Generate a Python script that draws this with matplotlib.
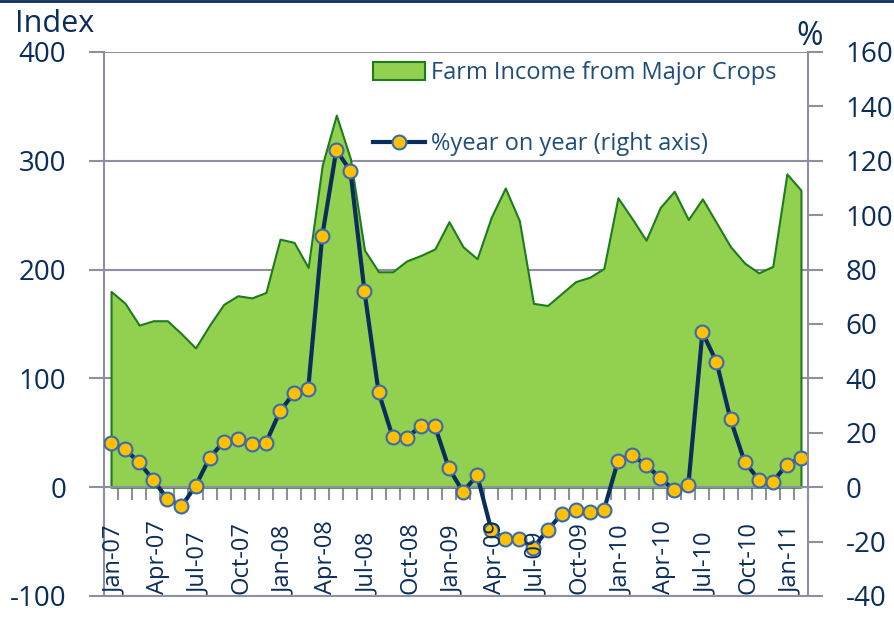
import matplotlib
matplotlib.use('Agg')
import matplotlib.pyplot as plt
import matplotlib.transforms as mtransforms
from matplotlib.lines import Line2D
import numpy as np

plt.rcParams['font.family'] = ['Open Sans', 'DejaVu Sans']
plt.rcParams['axes.unicode_minus'] = False

# monthly, Jan-07 .. Feb-11
months = ['Jan', 'Feb', 'Mar', 'Apr', 'May', 'Jun', 'Jul', 'Aug', 'Sep', 'Oct', 'Nov', 'Dec']
fechas = [f'{m}-{y:02d}' for y in range(7, 12) for m in months][:50]

ingreso = [180, 169, 149, 153, 153, 141, 128, 149, 168, 176, 174, 179,
           228, 225, 202, 296, 342, 302, 218, 198, 198, 208, 213, 219,
           244, 221, 210, 248, 275, 245, 169, 167, 178, 189, 193, 201,
           266, 247, 227, 257, 272, 246, 265, 243, 221, 206, 197, 203,
           288, 273]

yoy = [16.3, 13.9, 9.1, 2.6, -4.2, -7.0, 0.4, 10.8, 16.7, 17.6, 15.7, 16.3,
       27.9, 34.7, 36.0, 92.4, 123.9, 116.3, 72.0, 35.0, 18.5, 18.1, 22.5, 22.5,
       6.9, -1.7, 4.4, -15.6, -19.2, -19.2, -22.2, -15.8, -9.9, -8.5, -9.1, -8.5,
       9.6, 11.8, 8.1, 3.4, -1.1, 0.7, 56.9, 46.1, 24.9, 9.3, 2.8, 2.0,
       8.3, 10.8]

etiquetas = fechas[::3]

navy = '#0B2D5B'
gris = '#8E909F'
verde = '#92D050'
verde_borde = '#1E7B1E'

x = np.arange(len(ingreso))

fig = plt.figure(figsize=(8.95, 6.2), dpi=100)
ax1 = fig.add_axes([104/895, 1-596/620, 704/895, 544/620])
ax2 = ax1.twinx()

# area (left axis)
ax1.fill_between(x, 0, ingreso, facecolor=verde, edgecolor=verde_borde, linewidth=1.5,
                 label='Farm Income from Major Crops', zorder=1)
ax1.set_xlim(-0.5, len(x) - 0.5)
ax1.set_ylim(-100, 400)
ax1.set_yticks(np.arange(-100, 401, 100))
ax1.set_axisbelow(True)
ax1.yaxis.grid(True, color=gris, linewidth=1.5)
ax1.axhline(-100, color=gris, linewidth=1.5, clip_on=False)
ax1.set_xticks(np.arange(-0.5, len(x), 1))
ax1.set_xticklabels([])
ax1.tick_params(axis='x', direction='out', length=9, width=1.5, color=gris)
ax1.tick_params(axis='y', direction='out', length=11, width=1.5, color=gris,
                labelsize=20, labelcolor=navy, pad=16)
ax1.spines['bottom'].set_position(('data', 0))
ax1.spines['bottom'].set_color(gris)
ax1.spines['bottom'].set_linewidth(1.5)
ax1.spines['left'].set_color(gris)
ax1.spines['left'].set_linewidth(1.5)
ax1.spines['top'].set_visible(False)
ax1.spines['right'].set_visible(False)

# line (right axis)
ax2.plot(x, yoy, color=navy, linewidth=3, marker='o', markersize=10,
         markerfacecolor='#FFC000', markeredgecolor='#3A6BAE', markeredgewidth=1.5,
         label='%year on year (right axis)')
ax2.set_ylim(-40, 160)
ax2.set_yticks(np.arange(-40, 161, 20))
ax2.tick_params(axis='y', direction='out', length=11, width=1.5, color=gris,
                labelsize=20, labelcolor=navy, pad=16)
for s in ['left', 'top', 'bottom']:
    ax2.spines[s].set_visible(False)
ax2.spines['right'].set_color(gris)
ax2.spines['right'].set_linewidth(1.5)

# rotated month labels, drawn on top
trans = mtransforms.blended_transform_factory(ax2.transData, ax2.transAxes)
for i, lab in zip(x[::3], etiquetas):
    ax2.text(i + 0.3, 0.003, lab, transform=trans, rotation=90, ha='center', va='bottom',
             fontsize=17, color=navy, zorder=10)

# titles
fig.text(15/895, 1-32/620, 'Index', fontsize=22, color=navy, ha='left', va='baseline')
fig.text(810/895, 1-45/620, '%', fontsize=23, color=navy, ha='center', va='baseline')
fig.add_artist(Line2D([0, 1], [0.999, 0.999], color=navy, linewidth=2, transform=fig.transFigure))

# legend
h1, l1 = ax1.get_legend_handles_labels()
h2, l2 = ax2.get_legend_handles_labels()
fig.legend(h1 + h2, l1 + l2, loc='upper left', bbox_to_anchor=(373/895, 1-61/620),
           frameon=False, fontsize=17, labelcolor='#1F4E79', handlelength=2.2,
           handleheight=0.8, handletextpad=0.25, labelspacing=2.0,
           borderpad=0, borderaxespad=0)

plt.savefig('out.png', dpi=100)
